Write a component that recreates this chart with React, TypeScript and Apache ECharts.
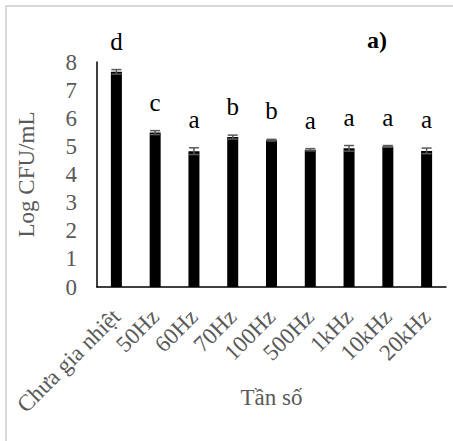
import React, { useEffect, useRef } from "react";
import * as echarts from "echarts";

const categories = ["Chưa gia nhiệt", "50Hz", "60Hz", "70Hz", "100Hz", "500Hz", "1kHz", "10kHz", "20kHz"];
const values = [7.65, 5.49, 4.83, 5.33, 5.22, 4.88, 4.93, 5.0, 4.84];
const errors = [0.08, 0.07, 0.12, 0.07, 0.03, 0.04, 0.1, 0.03, 0.1];
const letters = ["d", "c", "a", "b", "b", "a", "a", "a", "a"];
const yTicks = [0, 1, 2, 3, 4, 5, 6, 7, 8];

const FONT = "'Liberation Serif', 'Times New Roman', serif";
const GRAY = "#595959";

export default function App() {
  const ref = useRef<HTMLDivElement>(null);
  useEffect(() => {
    if (!ref.current) return;
    const chart = echarts.init(ref.current, undefined, { renderer: "svg" });
    const errData = values.map((v, i) => [i, v, errors[i]]);
    chart.setOption({
      animation: false,
      backgroundColor: "#ffffff",
      grid: {
        left: 97,
        right: 7,
        top: 62,
        bottom: 154,
        containLabel: false,
        outerBoundsMode: "none",
      },
      graphic: [
        {
          type: "rect",
          shape: { x: 6, y: 6, width: 470, height: 470 },
          style: { fill: "none", stroke: "#d9d9d9", lineWidth: 2 },
          silent: true,
        },
        {
          type: "text",
          x: 367,
          y: 40,
          style: {
            text: "a)",
            font: `bold 24px ${FONT}`,
            fill: "#000",
            textVerticalAlign: "middle",
          },
        },
      ],
      xAxis: {
        type: "category",
        data: categories,
        axisTick: { show: false },
        axisLine: { show: true, lineStyle: { color: "#000", width: 1.5 } },
        axisLabel: {
          rotate: 45,
          interval: 0,
          margin: 26,
          color: GRAY,
          fontSize: 23,
          fontFamily: FONT,
        },
        name: "Tần số",
        nameLocation: "middle",
        nameGap: 99,
        nameMoveOverlap: false,
        nameTextStyle: { color: GRAY, fontSize: 23, fontFamily: FONT },
      },
      yAxis: {
        type: "value",
        min: yTicks[0],
        max: yTicks[yTicks.length - 1],
        interval: 1,
        splitLine: { show: false },
        axisTick: { show: false },
        axisLine: { show: true, lineStyle: { color: "#000", width: 1.5 } },
        axisLabel: { color: GRAY, fontSize: 23, fontFamily: FONT, margin: 20 },
        name: "Log CFU/mL",
        nameLocation: "middle",
        nameGap: 59,
        nameMoveOverlap: false,
        nameTextStyle: { color: GRAY, fontSize: 23, fontFamily: FONT },
      },
      series: [
        {
          type: "bar",
          data: values,
          barWidth: 11,
          itemStyle: { color: "#000" },
        },
        {
          type: "custom",
          data: errData,
          encode: { x: 0, y: 1 },
          z: 10,
          renderItem: (params: any, api: any) => {
            const i = api.value(0);
            const v = api.value(1);
            const e = api.value(2);
            const letter = letters[params.dataIndex];
            const top = api.coord([i, v + e]);
            const bot = api.coord([i, v - e]);
            const cap = 5;
            const style = { stroke: GRAY, lineWidth: 1.5 };
            return {
              type: "group",
              children: [
                { type: "line", shape: { x1: top[0], y1: top[1], x2: bot[0], y2: bot[1] }, style },
                { type: "line", shape: { x1: top[0] - cap, y1: top[1], x2: top[0] + cap, y2: top[1] }, style },
                { type: "line", shape: { x1: bot[0] - cap, y1: bot[1], x2: bot[0] + cap, y2: bot[1] }, style },
                {
                  type: "text",
                  x: top[0],
                  y: top[1] - 16,
                  style: {
                    text: letter,
                    font: `25px ${FONT}`,
                    fill: "#000",
                    textAlign: "center",
                    textVerticalAlign: "bottom",
                  },
                },
              ],
            };
          },
        },
      ],
    });
    return () => chart.dispose();
  }, []);
  return (
    <div
      ref={ref}
      style={{ position: "fixed", left: 0, top: 0, width: 453, height: 441 }}
    />
  );
}
